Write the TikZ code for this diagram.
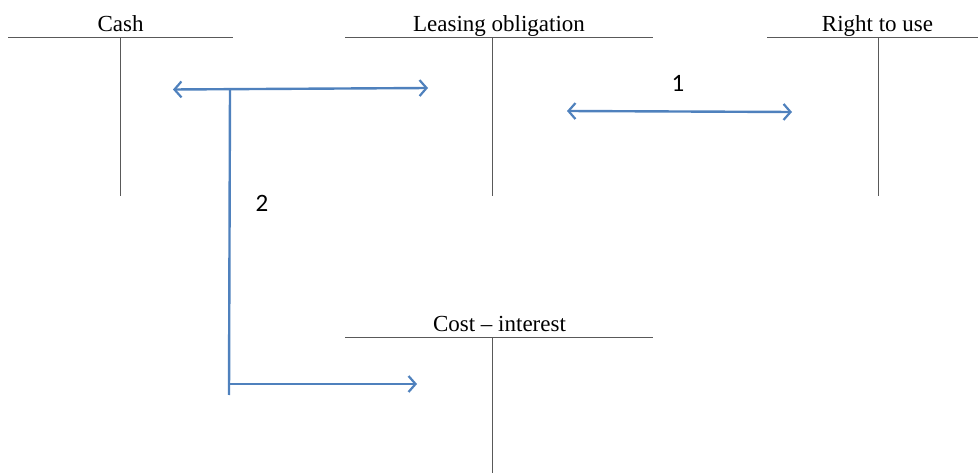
\documentclass[tikz,border=0pt]{standalone}
\usepackage{fontspec}
\setmainfont{Liberation Serif}
\newfontfamily\numfont{Carlito}
\usetikzlibrary{arrows.meta}
\definecolor{flowblue}{HTML}{4F81BD}
\tikzset{
  acct/.style={line width=1pt, black!65},
  title/.style={anchor=base, inner sep=0pt, font=\fontsize{23}{26}\selectfont},
  flow/.style={line width=2.4pt, flowblue},
  barb/.tip={Straight Barb[length=7pt,width=16pt,line width=2.2pt]},
  tip/.style={-barb},
  twotip/.style={barb-barb},
  num/.style={anchor=base, inner sep=0pt, font=\numfont\fontsize{25}{28}\selectfont}
}
\begin{document}
\begin{tikzpicture}[x=1pt,y=-1pt]
    \useasboundingbox (0,0) rectangle (978,473);
    % Cuentas T
    \node[title] (cash) at (120.5,32) {Cash};
    \draw[acct] (8,37.5) -- (233,37.5);
    \draw[acct] (120.5,37.5) -- (120.5,196);
    \node[title] (lease) at (499,32) {Leasing obligation};
    \draw[acct] (345,37.5) -- (653,37.5);
    \draw[acct] (492,37.5) -- (492,196);
    \node[title] (right) at (877.5,32) {Right to use};
    \draw[acct] (767,37.5) -- (978,37.5);
    \draw[acct] (878,37.5) -- (878,196);
    \node[title] (cost) at (499.5,331) {Cost -- interest};
    \draw[acct] (345,337) -- (653,337);
    \draw[acct] (492,337) -- (492,473);
    % Flechas azules
    \coordinate (a1) at (567,111);
    \coordinate (b1) at (792,112);
    \draw[flow, twotip] (a1) -- (b1);
    \node[num] (n1) at (678,92) {1};
    \coordinate (a2) at (173,89.5);
    \coordinate (b2) at (428,88);
    \coordinate (j2) at (230,89);
    \coordinate (d2) at (229,395);
    \coordinate (e2) at (229,384);
    \coordinate (f2) at (417,384);
    \draw[flow, twotip] (a2) -- (b2);
    \draw[flow] (j2) -- (d2);
    \draw[flow, tip] (e2) -- (f2);
    \node[num] (n2) at (262,212) {2};
\end{tikzpicture}
\end{document}
